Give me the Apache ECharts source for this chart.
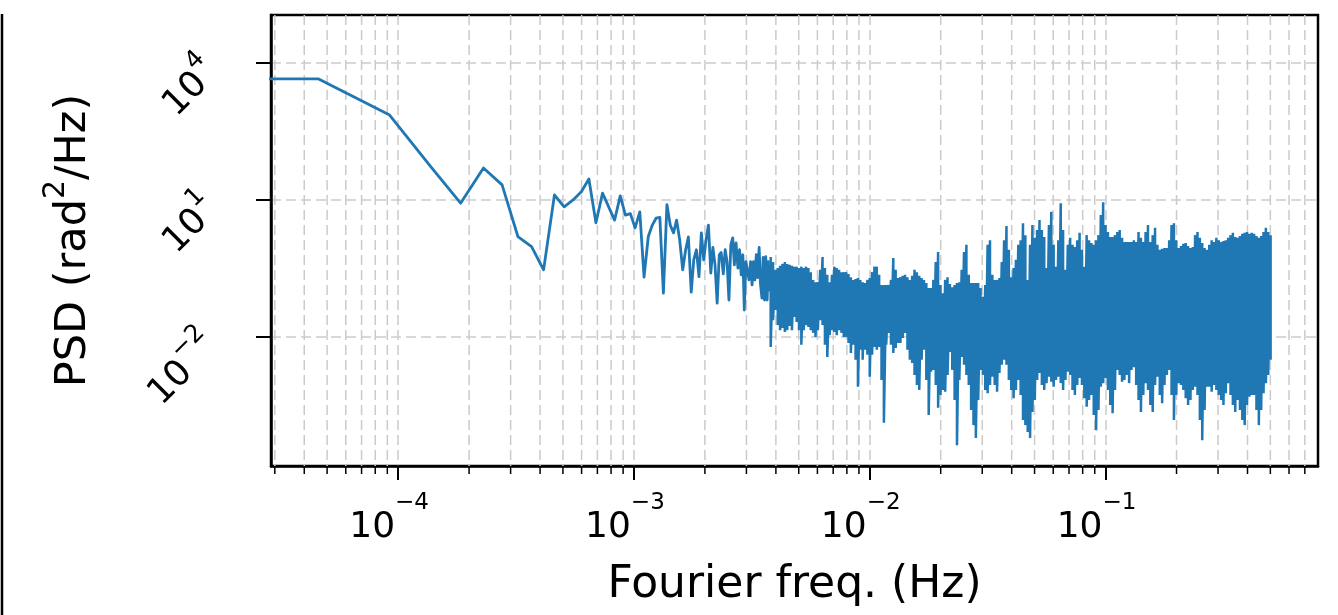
<!DOCTYPE html>
<html>
<head>
<meta charset="utf-8">
<script src="https://cdn.jsdelivr.net/npm/echarts@6/dist/echarts.min.js"></script>
<style>
html,body{margin:0;padding:0;background:#fff;}
#chart{width:1338px;height:615px;}
</style>
</head>
<body>
<div id="chart"></div>
<script>
// ---------- DATA (log10 values) ----------
// Low-frequency bins: log10 frequency (Hz); first entry stands in for the DC bin (drawn off-axis)
const lowFreqLog10 = [-6.0,-4.337,-4.036,-3.860,-3.735,-3.638,-3.559,-3.492,-3.434,-3.383,
  -3.337,-3.296,-3.258,-3.223,-3.191,-3.161,-3.133,-3.107,-3.082,-3.058,
  -3.036,-3.015,-2.995,-2.975,-2.957,-2.939,-2.922,-2.906,-2.890,-2.875,
  -2.860,-2.846,-2.832,-2.819,-2.806,-2.793,-2.781,-2.769,-2.757,-2.746,
  -2.735,-2.724,-2.714,-2.704,-2.694,-2.684,-2.674,-2.665,-2.656,-2.647,
  -2.638,-2.630,-2.621,-2.613,-2.605,-2.597,-2.589,-2.581,-2.574,-2.567,
  -2.559,-2.552,-2.545,-2.538,-2.532,-2.525,-2.518,-2.512,-2.505,-2.499,
  -2.493,-2.487,-2.481,-2.475,-2.469,-2.463,-2.457,-2.452,-2.446,-2.441,
  -2.435,-2.430,-2.424];
// log10 PSD (rad^2/Hz) at those bins
const lowPsdLog10 = [3.65,3.65,2.86,1.72,0.93,1.70,1.33,0.20,-0.02,-0.53,
  1.11,0.85,1.00,1.18,1.46,0.50,1.15,0.85,0.56,1.09,
  0.67,0.70,0.39,0.74,-0.69,0.20,0.45,0.60,0.62,-1.04,
  0.90,0.45,0.28,0.56,0.13,-0.53,-0.10,0.19,-1.02,-0.30,
  -0.09,-0.68,0.28,-0.31,0.13,0.45,-0.60,-0.04,-0.42,-1.26,
  -0.20,-0.15,-0.62,-0.09,-0.35,-1.19,0.02,0.17,-0.42,0.06,
  -0.49,-0.09,-0.64,-0.20,-1.41,-0.35,-0.37,-0.75,-0.35,-0.86,
  -0.35,-0.75,-0.20,-0.70,-0.04,-0.86,-1.15,-0.26,-1.19,-0.24,
  -1.19,-0.35,-1.00];
// High-frequency part: 0.01-decade columns, upper and lower envelope of the dense trace
const highFreqLog10 = [-2.42,-2.41,-2.40,-2.39,-2.38,-2.37,-2.36,-2.35,-2.34,-2.33,
  -2.32,-2.31,-2.30,-2.29,-2.28,-2.27,-2.26,-2.25,-2.24,-2.23,
  -2.22,-2.21,-2.20,-2.19,-2.18,-2.17,-2.16,-2.15,-2.14,-2.13,
  -2.12,-2.11,-2.10,-2.09,-2.08,-2.07,-2.06,-2.05,-2.04,-2.03,
  -2.02,-2.01,-2.00,-1.99,-1.98,-1.97,-1.96,-1.95,-1.94,-1.93,
  -1.92,-1.91,-1.90,-1.89,-1.88,-1.87,-1.86,-1.85,-1.84,-1.83,
  -1.82,-1.81,-1.80,-1.79,-1.78,-1.77,-1.76,-1.75,-1.74,-1.73,
  -1.72,-1.71,-1.70,-1.69,-1.68,-1.67,-1.66,-1.65,-1.64,-1.63,
  -1.62,-1.61,-1.60,-1.59,-1.58,-1.57,-1.56,-1.55,-1.54,-1.53,
  -1.52,-1.51,-1.50,-1.49,-1.48,-1.47,-1.46,-1.45,-1.44,-1.43,
  -1.42,-1.41,-1.40,-1.39,-1.38,-1.37,-1.36,-1.35,-1.34,-1.33,
  -1.32,-1.31,-1.30,-1.29,-1.28,-1.27,-1.26,-1.25,-1.24,-1.23,
  -1.22,-1.21,-1.20,-1.19,-1.18,-1.17,-1.16,-1.15,-1.14,-1.13,
  -1.12,-1.11,-1.10,-1.09,-1.08,-1.07,-1.06,-1.05,-1.04,-1.03,
  -1.02,-1.01,-1.00,-0.99,-0.98,-0.97,-0.96,-0.95,-0.94,-0.93,
  -0.92,-0.91,-0.90,-0.89,-0.88,-0.87,-0.86,-0.85,-0.84,-0.83,
  -0.82,-0.81,-0.80,-0.79,-0.78,-0.77,-0.76,-0.75,-0.74,-0.73,
  -0.72,-0.71,-0.70,-0.69,-0.68,-0.67,-0.66,-0.65,-0.64,-0.63,
  -0.62,-0.61,-0.60,-0.59,-0.58,-0.57,-0.56,-0.55,-0.54,-0.53,
  -0.52,-0.51,-0.50,-0.49,-0.48,-0.47,-0.46,-0.45,-0.44,-0.43,
  -0.42,-0.41,-0.40,-0.39,-0.38,-0.37,-0.36,-0.35,-0.34,-0.33,
  -0.32,-0.31,-0.30];
const highPsdUpperLog10 = [-0.25,-0.36,-0.53,-0.49,-0.44,-0.40,-0.36,-0.40,-0.42,-0.44,
  -0.46,-0.46,-0.49,-0.46,-0.49,-0.46,-0.49,-0.58,-0.75,-0.80,
  -0.80,-0.53,-0.25,-0.49,-0.64,-0.80,-0.64,-0.46,-0.49,-0.53,
  -0.58,-0.58,-0.58,-0.62,-0.69,-0.75,-0.73,-0.71,-0.75,-0.80,
  -0.82,-0.75,-0.71,-0.58,-0.46,-0.46,-0.64,-0.86,-0.86,-0.86,
  -0.86,-0.75,-0.27,-0.53,-0.71,-0.69,-0.66,-0.64,-0.69,-0.75,
  -0.66,-0.53,-0.58,-0.66,-0.71,-0.75,-0.82,-0.93,-0.93,-0.75,
  -0.36,-0.14,-0.86,-1.04,-0.75,-0.69,-0.84,-0.91,-0.86,-0.82,
  -0.80,-0.53,-0.14,0.02,-0.64,-0.82,-0.82,-0.82,-0.82,-0.93,
  -1.12,-0.86,0.02,0.12,-0.64,-0.75,-0.75,-0.71,-0.36,0.12,
  0.43,-0.09,-0.69,-0.49,-0.31,0.02,0.12,0.49,0.23,-0.75,
  0.02,0.45,0.17,0.34,0.56,0.34,0.19,-0.49,0.45,0.74,
  0.02,-0.46,0.12,0.93,0.34,-0.53,0.02,0.17,0.02,-0.03,
  0.12,0.28,-0.09,-0.46,0.23,0.12,0.06,0.02,0.12,0.23,
  0.67,0.95,0.45,0.30,0.19,0.19,0.23,0.30,0.34,0.17,
  0.08,0.08,0.08,0.08,0.12,0.08,0.30,0.17,0.08,0.30,
  0.45,0.08,0.23,0.39,0.02,-0.09,-0.07,-0.05,-0.05,0.12,
  0.45,0.49,0.12,-0.05,-0.01,0.04,0.06,-0.01,-0.05,-0.03,
  0.23,0.30,0.17,0.06,-0.05,-0.09,0.02,0.12,0.08,0.17,
  0.12,0.08,0.10,0.12,0.17,0.23,0.28,0.19,0.17,0.21,
  0.26,0.28,0.30,0.26,0.28,0.26,0.21,0.17,0.21,0.30,
  0.39,0.30,0.23];
const highPsdLowerLog10 = [-2.22,-1.63,-1.41,-1.74,-1.85,-1.80,-1.89,-1.85,-1.76,-1.85,
  -1.56,-1.67,-1.85,-2.17,-1.85,-1.74,-1.78,-1.85,-1.91,-2.00,
  -1.85,-1.63,-1.74,-2.17,-2.44,-1.96,-1.85,-1.89,-1.96,-1.85,
  -1.91,-2.00,-2.00,-2.13,-2.35,-2.17,-2.50,-3.09,-2.28,-2.50,
  -2.28,-2.39,-2.87,-2.39,-2.22,-2.28,-2.22,-2.94,-3.88,-2.17,
  -1.91,-2.17,-2.35,-2.24,-2.13,-2.13,-2.02,-1.91,-2.28,-2.50,
  -2.57,-2.83,-3.05,-3.16,-2.50,-2.28,-2.94,-3.71,-2.76,-2.72,
  -3.05,-3.55,-3.27,-3.16,-3.20,-2.83,-2.33,-2.72,-3.38,-4.37,
  -2.94,-2.44,-2.61,-2.83,-3.05,-3.60,-3.93,-4.21,-3.38,-2.72,
  -2.83,-3.16,-3.23,-3.05,-2.87,-3.05,-3.20,-2.79,-2.61,-2.50,
  -2.61,-2.94,-3.16,-3.34,-3.16,-2.94,-3.27,-3.82,-3.93,-4.08,
  -4.21,-3.64,-3.38,-2.94,-2.79,-3.05,-3.16,-3.01,-2.87,-2.98,
  -3.09,-2.94,-2.87,-3.01,-3.16,-2.94,-2.76,-2.83,-3.16,-3.27,
  -3.05,-2.90,-3.05,-3.34,-3.53,-3.38,-3.27,-3.71,-4.04,-3.60,
  -3.09,-3.01,-2.90,-3.16,-3.49,-3.67,-3.16,-2.72,-2.83,-2.98,
  -2.94,-2.83,-3.01,-2.72,-2.66,-3.05,-3.38,-3.64,-3.27,-3.01,
  -3.16,-3.49,-3.64,-3.05,-2.87,-3.27,-3.45,-3.05,-2.83,-2.72,
  -3.27,-3.82,-3.27,-3.01,-3.05,-3.16,-3.34,-3.49,-3.38,-3.16,
  -3.09,-3.27,-3.82,-4.26,-3.60,-3.09,-3.09,-3.20,-3.05,-3.16,
  -3.27,-3.38,-3.49,-3.23,-3.01,-3.27,-3.49,-3.64,-3.38,-3.60,
  -3.82,-3.93,-3.49,-3.31,-3.27,-3.27,-3.60,-3.93,-3.60,-3.23,
  -3.01,-2.83,-2.50];
// Axis ticks
const xMajorTicks = [1e-4, 1e-3, 1e-2, 1e-1];
const xMinorTicks = [3e-5,4e-5,5e-5,6e-5,7e-5,8e-5,9e-5,
  2e-4,3e-4,4e-4,5e-4,6e-4,7e-4,8e-4,9e-4,
  2e-3,3e-3,4e-3,5e-3,6e-3,7e-3,8e-3,9e-3,
  2e-2,3e-2,4e-2,5e-2,6e-2,7e-2,8e-2,9e-2,
  2e-1,3e-1,4e-1,5e-1,6e-1,7e-1];
const yMajorTicks = [1e-2, 1e1, 1e4];
const xRangeLog10 = [-4.539, -0.099];
const yRangeLog10 = [-4.825, 5.05];

// ---------- BUILD ----------
const lowData = lowFreqLog10.map((e, i) => [Math.pow(10, e), Math.pow(10, lowPsdLog10[i])]);
const highData = [];
highFreqLog10.forEach((e, i) => {
  const f = Math.pow(10, e);
  highData.push([f, Math.pow(10, highPsdUpperLog10[i])]);
  highData.push([f, Math.pow(10, highPsdLowerLog10[i])]);
});

const FONT = 'DejaVu Sans';
const C0 = '#1f77b4';
const GRID_COLOR = '#cbcbcb';
const DASH = [10, 5];

function sciLabel(value) {
  const e = Math.round(Math.log10(value));
  const s = e < 0 ? '\u2212' + (-e) : String(e);
  return '{b|10}{s|' + s + '}';
}
const xTickRich = {
  b: {fontFamily: FONT, fontSize: 36, color: '#000', lineHeight: 54, verticalAlign: 'bottom'},
  s: {fontFamily: FONT, fontSize: 23, color: '#000', lineHeight: 28, verticalAlign: 'top', padding: [0, 18, 0, 0]}
};
const yTickRich = {
  b: {fontFamily: FONT, fontSize: 36, color: '#000', lineHeight: 48, verticalAlign: 'bottom'},
  s: {fontFamily: FONT, fontSize: 25, color: '#000', lineHeight: 26, verticalAlign: 'top'}
};

const chart = echarts.init(document.getElementById('chart'), null, {renderer: 'canvas'});
chart.setOption({
  animation: false,
  backgroundColor: '#fff',
  graphic: [{
    type: 'line', silent: true,
    shape: {x1: 2, y1: 14, x2: 2, y2: 615},
    style: {stroke: '#000', lineWidth: 2.5}
  }],
  grid: {
    left: 271, right: 20, top: 15, bottom: 149,
    show: true, borderColor: '#000', borderWidth: 2.5, backgroundColor: 'transparent'
  },
  xAxis: {
    type: 'log',
    logBase: 10,
    min: Math.pow(10, xRangeLog10[0]),
    max: Math.pow(10, xRangeLog10[1]),
    name: 'Fourier freq. (Hz)',
    nameLocation: 'middle',
    nameGap: 98,
    nameTextStyle: {fontFamily: FONT, fontSize: 44, color: '#000'},
    axisLine: {show: true, lineStyle: {color: '#000', width: 2.5}},
    axisTick: {show: true, length: 14, lineStyle: {color: '#000', width: 2}, customValues: xMajorTicks},
    axisLabel: {customValues: xMajorTicks, margin: 26, formatter: sciLabel, rich: xTickRich},
    splitLine: {show: true, lineStyle: {color: GRID_COLOR, width: 1.5, type: DASH}},
    minorTick: {show: false},
    minorSplitLine: {show: false}
  },
  yAxis: {
    type: 'log',
    logBase: 10,
    min: Math.pow(10, yRangeLog10[0]),
    max: Math.pow(10, yRangeLog10[1]),
    name: '{t|PSD (rad}{s|2}{t|/Hz)}',
    nameLocation: 'middle',
    nameGap: 176,
    nameTextStyle: {
      rich: {
        t: {fontFamily: FONT, fontSize: 43, color: '#000', lineHeight: 54, verticalAlign: 'bottom'},
        s: {fontFamily: FONT, fontSize: 30, color: '#000', lineHeight: 30, verticalAlign: 'top'}
      }
    },
    axisLine: {show: true, lineStyle: {color: '#000', width: 2.5}},
    axisTick: {show: true, length: 15, lineStyle: {color: '#000', width: 2}, customValues: yMajorTicks},
    axisLabel: {customValues: yMajorTicks, margin: 62, rotate: 45, formatter: sciLabel, rich: yTickRich},
    splitLine: {show: true, lineStyle: {color: GRID_COLOR, width: 1.5, type: DASH}},
    minorTick: {show: false},
    minorSplitLine: {show: false}
  },
  series: [
    {
      type: 'custom',
      name: 'minor',
      silent: true,
      z: 1,
      clip: false,
      data: xMinorTicks.map(v => [v, 1]),
      encode: {x: 0, y: 1},
      renderItem: function (params, api) {
        const x = api.coord([api.value(0), 1])[0];
        const cs = params.coordSys;
        const yb = cs.y + cs.height;
        return {
          type: 'group',
          children: [
            {type: 'line', shape: {x1: x, y1: cs.y, x2: x, y2: yb},
             style: {stroke: GRID_COLOR, lineWidth: 1.5, lineDash: DASH}},
            {type: 'line', shape: {x1: x, y1: yb, x2: x, y2: yb + 8},
             style: {stroke: '#000', lineWidth: 1.5}}
          ]
        };
      }
    },
    {
      type: 'line',
      name: 'psd-low',
      data: lowData,
      showSymbol: false,
      symbol: 'none',
      clip: true,
      z: 3,
      lineStyle: {color: C0, width: 2.8, join: 'round'}
    },
    {
      type: 'line',
      name: 'psd-high',
      data: highData,
      showSymbol: false,
      symbol: 'none',
      clip: true,
      z: 3,
      lineStyle: {color: C0, width: 2.5, join: 'bevel'}
    }
  ]
});
</script>
</body>
</html>
